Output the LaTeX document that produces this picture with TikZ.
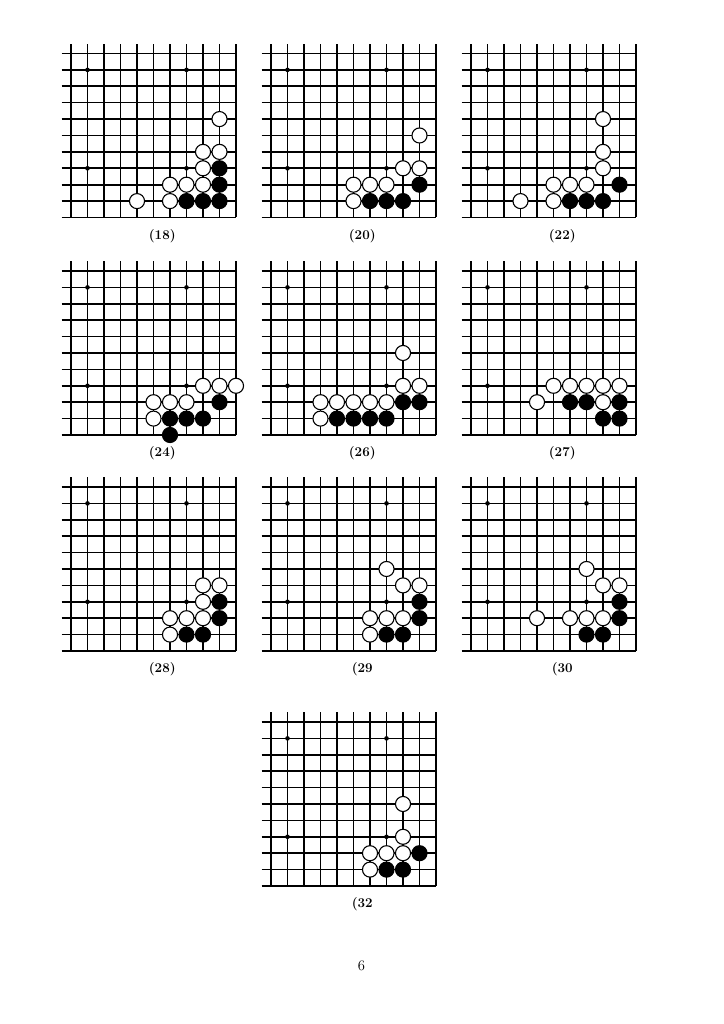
\documentclass[tikz,border=0pt]{standalone}
\usetikzlibrary{positioning}
\newcommand{\goboard}[6]{%
  \begin{scope}[shift={(#2,#3)}, x=13.57pt, y=13.49pt]
    \foreach \k in {0,...,10} {
      \draw[gridline] (-0.57,\k) -- (10,\k);
      \draw[gridline] (\k,0) -- (\k,10.6);
    }
    \foreach \i/\j in {1/3,7/3,1/9,7/9} \fill (\i,\j) circle (1.9pt);
    \foreach \i/\j in {#5} \draw[wstone] (\i,\j) circle (6.2pt);
    \foreach \i/\j in {#6} \draw[bstone] (\i,\j) circle (6.2pt);
    \node[lbl] (#1) at (5.53,-1.13) {#4};
  \end{scope}}

\begin{document}
\begin{tikzpicture}[x=0.8224pt, y=-0.8224pt,
  gridline/.style={line width=1.35pt},
  wstone/.style={fill=white, draw=black, line width=0.9pt},
  bstone/.style={fill=black, draw=black, line width=0.9pt},
  lbl/.style={font=\fontsize{11}{13}\selectfont\bfseries},
  pagenum/.style={font=\fontsize{12}{14}\selectfont}]
\useasboundingbox[fill=white] (0,0) rectangle (723,1024);
\goboard{d18}{71}{217.5}{(18)}{9/6,8/4,9/4,8/3,6/2,7/2,8/2,4/1,6/1}{9/3,9/2,7/1,8/1,9/1}
\goboard{d20}{271}{217.5}{(20)}{9/5,8/3,9/3,5/2,6/2,7/2,5/1}{9/2,6/1,7/1,8/1}
\goboard{d22}{471}{217.5}{(22)}{8/6,8/4,8/3,5/2,6/2,7/2,3/1,5/1}{9/2,6/1,7/1,8/1}
\goboard{d24}{71}{435}{(24)}{8/3,9/3,10/3,5/2,6/2,7/2,5/1}{9/2,6/1,7/1,8/1,6/0}
\goboard{d26}{271}{435}{(26)}{8/5,8/3,9/3,3/2,4/2,5/2,6/2,7/2,3/1}{8/2,9/2,4/1,5/1,6/1,7/1}
\goboard{d27}{471}{435}{(27)}{5/3,6/3,7/3,8/3,9/3,4/2,8/2}{6/2,7/2,9/2,8/1,9/1}
\goboard{d28}{71}{651}{(28)}{8/4,9/4,8/3,6/2,7/2,8/2,6/1}{9/3,9/2,7/1,8/1}
\goboard{d29}{271}{651}{(29}{7/5,8/4,9/4,6/2,7/2,8/2,6/1}{9/3,9/2,7/1,8/1}
\goboard{d30}{471}{651}{(30}{7/5,8/4,9/4,4/2,6/2,7/2,8/2}{9/3,9/2,7/1,8/1}
\goboard{d32}{271}{886}{(32}{8/5,8/3,6/2,7/2,8/2,6/1}{9/2,7/1,8/1}
\node[pagenum] (pageno) at (361.5,966) {6};
\end{tikzpicture}
\end{document}
